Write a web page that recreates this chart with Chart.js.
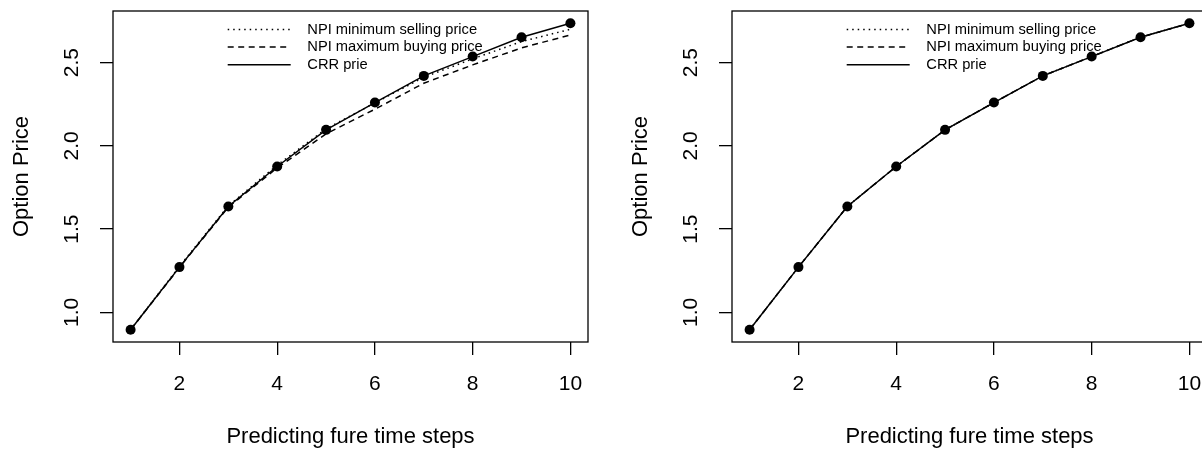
<!DOCTYPE html>
<html><head><meta charset="utf-8">
<script src="https://cdn.jsdelivr.net/npm/chart.js@4.4.1/dist/chart.umd.min.js"></script>
<style>
html,body{margin:0;padding:0;background:#fff;overflow:hidden;width:1202px;height:450px;}
#wrap{position:relative;width:1202px;height:450px;overflow:hidden;background:#fff;}
canvas{position:absolute;top:0;}
</style></head><body>
<div id="wrap">
<canvas id="c1" width="619" height="450" style="left:0;width:619px;height:450px"></canvas>
<canvas id="c2" width="619" height="450" style="left:619px;width:619px;height:450px"></canvas>
</div>
<script>
// ---- data ----
const steps = [1, 2, 3, 4, 5, 6, 7, 8, 9, 10];
const leftMinSelling = [0.896, 1.276, 1.640, 1.884, 2.102, 2.258, 2.412, 2.522, 2.626, 2.700];
const leftMaxBuying  = [0.896, 1.270, 1.632, 1.868, 2.072, 2.220, 2.376, 2.486, 2.588, 2.666];
const leftCRR        = [0.896, 1.272, 1.636, 1.876, 2.096, 2.260, 2.420, 2.536, 2.652, 2.736];
const rightMinSelling = [0.896, 1.272, 1.636, 1.876, 2.096, 2.260, 2.420, 2.536, 2.652, 2.736];
const rightMaxBuying  = [0.896, 1.272, 1.636, 1.876, 2.096, 2.260, 2.420, 2.536, 2.652, 2.736];
const rightCRR        = [0.896, 1.272, 1.636, 1.876, 2.096, 2.260, 2.420, 2.536, 2.652, 2.736];
const seriesLabels = ['NPI minimum selling price', 'NPI maximum buying price', 'CRR prie'];
const xTickValues = [2, 4, 6, 8, 10];
const yTickValues = [1.0, 1.5, 2.0, 2.5];
const xTitle = 'Predicting fure time steps';
const yTitle = 'Option Price';

const FAMILY = '"Liberation Sans", Arial, Helvetica, sans-serif';

function extRange(vals) {
  const lo = Math.min(...vals), hi = Math.max(...vals);
  const d = (hi - lo) * 0.04;
  return [lo - d, hi + d];
}

const framePlugin = {
  id: 'frame',
  afterDraw(chart) {
    const { ctx, chartArea: a } = chart;
    ctx.save();
    ctx.strokeStyle = '#000';
    ctx.lineWidth = 1.3;
    ctx.strokeRect(a.left, a.top, a.right - a.left, a.bottom - a.top);
    ctx.restore();
  }
};

const legendPlugin = {
  id: 'rlegend',
  afterDraw(chart) {
    const { ctx, chartArea: a } = chart;
    chart.data.datasets.forEach((ds, i) => {
      const y = a.top + 18.5 + i * 17.6;
      ctx.save();
      ctx.strokeStyle = '#000';
      ctx.lineWidth = ds.borderWidth;
      ctx.setLineDash(ds.borderDash || []);
      ctx.beginPath();
      ctx.moveTo(a.left + 114.7, y);
      ctx.lineTo(a.left + 177.7, y);
      ctx.stroke();
      ctx.setLineDash([]);
      ctx.fillStyle = '#000';
      ctx.font = '14.7px ' + FAMILY;
      ctx.textBaseline = 'middle';
      ctx.textAlign = 'left';
      ctx.fillText(ds.label, a.left + 194.3, y);
      ctx.restore();
    });
  }
};

function makeChart(id, minSell, maxBuy, crr) {
  const [xmin, xmax] = extRange(steps);
  const [ymin, ymax] = extRange([...minSell, ...maxBuy, ...crr]);
  const mk = (vals) => steps.map((s, i) => ({ x: s, y: vals[i] }));
  const gridOpts = { display: true, drawOnChartArea: false, drawTicks: true, tickLength: 13, color: '#000', lineWidth: 1.3 };
  return new Chart(document.getElementById(id), {
    type: 'line',
    data: {
      datasets: [
        { label: seriesLabels[0], data: mk(minSell), borderColor: '#000', borderWidth: 1.5, borderDash: [1.5, 4], pointRadius: 0, fill: false, tension: 0, order: 2 },
        { label: seriesLabels[1], data: mk(maxBuy), borderColor: '#000', borderWidth: 1.5, borderDash: [6, 4.5], pointRadius: 0, fill: false, tension: 0, order: 1 },
        { label: seriesLabels[2], data: mk(crr), borderColor: '#000', borderWidth: 1.5, pointRadius: 5, pointBackgroundColor: '#000', pointBorderColor: '#000', pointBorderWidth: 0, fill: false, tension: 0, order: 0 }
      ]
    },
    options: {
      responsive: false,
      devicePixelRatio: 1,
      animation: false,
      layout: { padding: { left: 0, top: 11, right: 31, bottom: 0 } },
      plugins: { legend: { display: false }, tooltip: { enabled: false } },
      scales: {
        x: {
          type: 'linear', min: xmin, max: xmax,
          afterBuildTicks: s => { s.ticks = xTickValues.map(v => ({ value: v })); },
          afterFit: s => { s.height = 108; s.paddingLeft = 0; s.paddingRight = 0; },
          ticks: { autoSkip: false, minRotation: 0, maxRotation: 0, padding: 17, color: '#000', font: { size: 21, family: FAMILY }, callback: v => String(v) },
          grid: gridOpts,
          border: { display: false },
          title: { display: true, text: xTitle, color: '#000', font: { size: 22, family: FAMILY }, padding: { top: 0, bottom: 0 } }
        },
        y: {
          type: 'linear', min: ymin, max: ymax,
          afterBuildTicks: s => { s.ticks = yTickValues.map(v => ({ value: v })); },
          afterFit: s => { s.width = 113; s.paddingTop = 0; s.paddingBottom = 0; },
          ticks: { autoSkip: false, minRotation: 90, maxRotation: 90, crossAlign: 'center', padding: 13.4, color: '#000', font: { size: 21, family: FAMILY }, callback: v => Number(v).toFixed(1) },
          grid: gridOpts,
          border: { display: false },
          title: { display: true, text: yTitle, color: '#000', font: { size: 22, family: FAMILY }, padding: { top: 8.3, bottom: 0 } }
        }
      }
    },
    plugins: [framePlugin, legendPlugin]
  });
}

makeChart('c1', leftMinSelling, leftMaxBuying, leftCRR);
makeChart('c2', rightMinSelling, rightMaxBuying, rightCRR);
</script>
</body></html>
